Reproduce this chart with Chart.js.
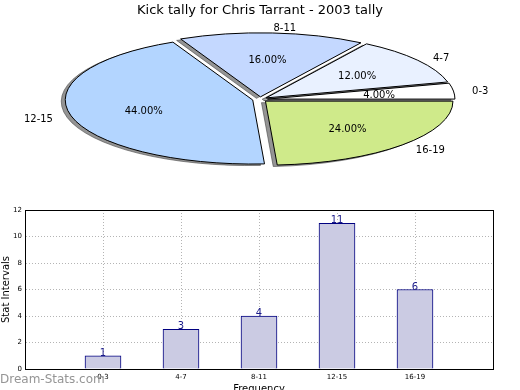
<!DOCTYPE html>
<html>
<head>
<meta charset="utf-8">
<script src="https://cdn.jsdelivr.net/npm/chart.js@4/dist/chart.umd.min.js"></script>
<style>
  html, body { margin: 0; padding: 0; background: #fff; overflow: hidden; }
  body { width: 520px; height: 390px; position: relative; }
  canvas { position: absolute; left: 0; top: 0; }
  .mark { position: absolute; left: 0; top: 373px; font: 12px "DejaVu Sans", sans-serif; line-height: 12px; color: #959595; }
</style>
</head>
<body>
<canvas id="bars" width="520" height="395"></canvas>
<canvas id="pie" width="520" height="200"></canvas>
<div class="mark">Dream-Stats.com</div>
<script>
const categories = ["0-3", "4-7", "8-11", "12-15", "16-19"];
const tally = [1, 3, 4, 11, 6];
const yTicks = [0, 2, 4, 6, 8, 10, 12];

const sliceColors = ["#ffffff", "#e9f1ff", "#c4d8ff", "#b3d5ff", "#cfea8a"];

Chart.defaults.font.family = "'DejaVu Sans', sans-serif";
Chart.defaults.color = "#000";

// pie is squashed into an ellipse and exploded like the matplotlib one
const CX = 260, CY = 99.4, RX = 187.5, RY = 64, EXPLODE = 0.04;

const total = tally.reduce((a, b) => a + b, 0);
// chart.js goes clockwise, matplotlib counter-clockwise -> reverse
const pieLabels = categories.slice().reverse();
const pieValues = tally.slice().reverse();
const pieColors = sliceColors.slice().reverse();

const pieShape = {
  id: "pieShape",
  beforeDatasetDraw(chart) {
    const ctx = chart.ctx;
    const arcs = chart.getDatasetMeta(0).data;
    const base = ctx.getTransform();
    const place = (el, dx) => {
      const R = el.outerRadius;
      const mid = (el.startAngle + el.endAngle) / 2;
      ctx.setTransform(base);
      ctx.translate(dx + CX, CY);
      ctx.scale(RX / R, RY / R);
      ctx.translate(-el.x, -el.y);
      ctx.translate(Math.cos(mid) * EXPLODE * R, Math.sin(mid) * EXPLODE * R);
    };
    ctx.save();
    ctx.stroke = function () {
      this.save();
      this.setTransform(base);
      CanvasRenderingContext2D.prototype.stroke.call(this);
      this.restore();
    };
    // shadow pass, drawn off canvas so only the shadow lands
    ctx.shadowColor = "rgba(60,60,60,0.55)";
    ctx.shadowBlur = 0;
    ctx.shadowOffsetX = -10000 - 4;
    ctx.shadowOffsetY = 1.5;
    arcs.forEach(el => { ctx.save(); place(el, 10000); el.draw(ctx); ctx.restore(); });
    ctx.shadowColor = "rgba(0,0,0,0)";
    ctx.shadowOffsetX = 0;
    ctx.shadowOffsetY = 0;
    arcs.forEach(el => { ctx.save(); place(el, 0); el.draw(ctx); ctx.restore(); });
    delete ctx.stroke;
    ctx.restore();
    return false;
  },
  afterDraw(chart) {
    const ctx = chart.ctx;
    const arcs = chart.getDatasetMeta(0).data;
    ctx.save();
    ctx.font = "10px 'DejaVu Sans'";
    ctx.fillStyle = "#000";
    ctx.textBaseline = "middle";
    arcs.forEach((el, i) => {
      const mid = (el.startAngle + el.endAngle) / 2;
      const c = Math.cos(mid), s = Math.sin(mid);
      ctx.textAlign = c > 0 ? "left" : "right";
      ctx.fillText(pieLabels[i], CX + (1.1 + EXPLODE) * RX * c, CY + 1.5 + (1.1 + EXPLODE) * RY * s);
      ctx.textAlign = "center";
      const pct = (pieValues[i] / total * 100).toFixed(2) + "%";
      ctx.fillText(pct, CX + (0.6 + EXPLODE) * RX * c, CY + 1.5 + (0.6 + EXPLODE) * RY * s);
    });
    ctx.restore();
  }
};

new Chart(document.getElementById("pie"), {
  type: "pie",
  data: {
    labels: pieLabels,
    datasets: [{
      data: pieValues,
      backgroundColor: pieColors,
      borderColor: "#000",
      borderWidth: 1,
      hoverOffset: 0,
      clip: false,
    }],
  },
  options: {
    responsive: false,
    animation: false,
    rotation: 90,
    plugins: {
      legend: { display: false },
      tooltip: { enabled: false },
      title: {
        display: true,
        text: "Kick tally for Chris Tarrant - 2003 tally",
        font: { size: 13, weight: "normal" },
        color: "#000",
        padding: { top: 3, bottom: 0 },
      },
    },
  },
  plugins: [pieShape],
});

const barValues = {
  id: "barValues",
  afterDatasetsDraw(chart) {
    const ctx = chart.ctx;
    const bars = chart.getDatasetMeta(0).data;
    const vals = chart.data.datasets[0].data;
    ctx.save();
    ctx.font = "10px 'DejaVu Sans'";
    ctx.fillStyle = "#1a1a8a";
    ctx.textAlign = "center";
    ctx.textBaseline = "alphabetic";
    bars.forEach((bar, i) => {
      if (vals[i] == null) return;
      ctx.fillText(String(vals[i]), bar.x, bar.y);
    });
    ctx.restore();
  }
};

new Chart(document.getElementById("bars"), {
  type: "bar",
  data: {
    labels: ["", ...categories, ""],
    datasets: [{
      data: [null, ...tally, null],
      backgroundColor: "#cbcbe3",
      borderColor: "#000080",
      borderWidth: 1,
      barThickness: 36,
    }],
  },
  options: {
    responsive: false,
    animation: false,
    layout: { padding: { left: 0, top: 210, right: 27, bottom: 0 } },
    plugins: {
      legend: { display: false },
      tooltip: { enabled: false },
    },
    scales: {
      x: {
        type: "category",
        offset: false,
        z: 1,
        grid: { color: "#b4b4b4", drawTicks: false, offset: false },
        border: { color: "#000", dash: [1, 2] },
        ticks: { font: { size: 7 }, color: "#000", padding: 4, autoSkip: false, maxRotation: 0 },
        title: { display: true, text: "Frequency", font: { size: 10 }, color: "#000", padding: 0 },
        afterFit(s) { s.height = 395 - 369; },
      },
      y: {
        min: 0,
        max: 12,
        z: 1,
        afterBuildTicks(s) { s.ticks = yTicks.map(v => ({ value: v })); },
        grid: { color: "#b4b4b4", drawTicks: false },
        border: { color: "#000", dash: [1, 2] },
        ticks: { font: { size: 7 }, color: "#000", padding: 3 },
        title: { display: true, text: "Stat Intervals", font: { size: 10 }, color: "#000", padding: 0 },
        afterFit(s) { s.width = 25; },
      },
      x2: {
        type: "category",
        position: "top",
        offset: false,
        z: 1,
        grid: { display: false },
        ticks: { display: false },
        border: { color: "#000" },
        afterFit(s) { s.height = 0; },
      },
      y2: {
        type: "linear",
        position: "right",
        min: 0,
        max: 12,
        z: 1,
        grid: { display: false },
        ticks: { display: false },
        border: { color: "#000" },
        afterFit(s) { s.width = 0; },
      },
    },
  },
  plugins: [barValues],
});
</script>
</body>
</html>
